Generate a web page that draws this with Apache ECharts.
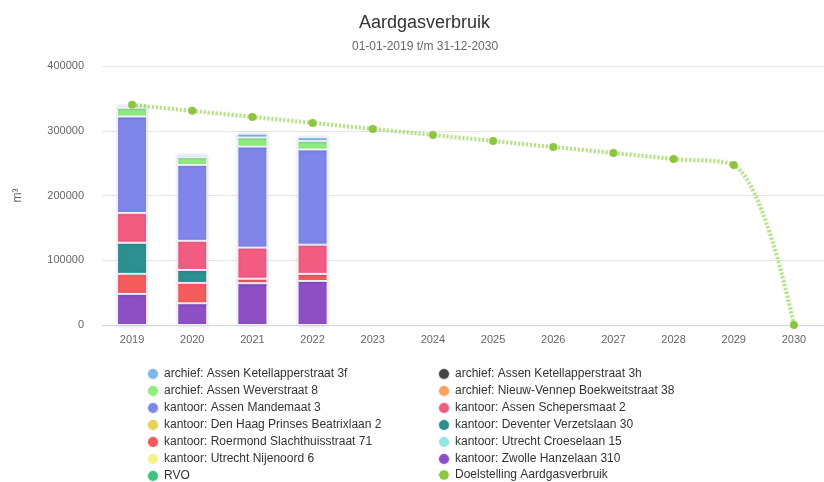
<!DOCTYPE html>
<html>
<head>
<meta charset="utf-8">
<script src="https://cdn.jsdelivr.net/npm/echarts@6/dist/echarts.min.js"></script>
<style>
  html, body { margin: 0; padding: 0; background: #fff; }
  #chart { width: 824px; height: 482px; }
</style>
</head>
<body>
<div id="chart"></div>
<script>
const years = ["2019","2020","2021","2022","2023","2024","2025","2026","2027","2028","2029","2030"];

// stacked gas use per location (m3), null where no data
const assenKetellapper3f = [3500, 3000, 6000, 6000, null, null, null, null, null, null, null, null];
const assenKetellapper3h = [0, 0, 0, 0, null, null, null, null, null, null, null, null];
const assenWeverstraat8 = [13000, 12000, 14000, 13000, null, null, null, null, null, null, null, null];
const nieuwVennep38 = [0, 0, 0, 0, null, null, null, null, null, null, null, null];
const assenMandemaat3 = [149000, 117000, 156000, 147000, null, null, null, null, null, null, null, null];
const assenSchepersmaat2 = [46000, 45000, 48000, 45000, null, null, null, null, null, null, null, null];
const denHaagBeatrixlaan2 = [0, 0, 0, 0, null, null, null, null, null, null, null, null];
const deventerVerzetslaan30 = [48000, 20000, 0, 0, null, null, null, null, null, null, null, null];
const roermondSlachthuis71 = [31000, 31500, 7000, 11000, null, null, null, null, null, null, null, null];
const utrechtCroeselaan15 = [0, 0, 0, 0, null, null, null, null, null, null, null, null];
const utrechtNijenoord6 = [0, 0, 0, 0, null, null, null, null, null, null, null, null];
const zwolleHanzelaan310 = [48000, 33500, 64500, 68000, null, null, null, null, null, null, null, null];
const rvo = [0, 0, 0, 0, null, null, null, null, null, null, null, null];

// target line
const doelstelling = [340000, 330700, 321400, 312100, 302800, 293500, 284200, 274900, 265600, 256300, 247000, 0];

const yTicks = [0, 100000, 200000, 300000, 400000];

// legend/series order as in the original (first = top of stack)
const barSeries = [
  { name: "archief: Assen Ketellapperstraat 3f", color: "#7cb5ec", data: assenKetellapper3f },
  { name: "archief: Assen Ketellapperstraat 3h", color: "#434348", data: assenKetellapper3h },
  { name: "archief: Assen Weverstraat 8", color: "#90ed7d", data: assenWeverstraat8 },
  { name: "archief: Nieuw-Vennep Boekweitstraat 38", color: "#f7a35c", data: nieuwVennep38 },
  { name: "kantoor: Assen Mandemaat 3", color: "#8085e9", data: assenMandemaat3 },
  { name: "kantoor: Assen Schepersmaat 2", color: "#f15c80", data: assenSchepersmaat2 },
  { name: "kantoor: Den Haag Prinses Beatrixlaan 2", color: "#e4d354", data: denHaagBeatrixlaan2 },
  { name: "kantoor: Deventer Verzetslaan 30", color: "#2b908f", data: deventerVerzetslaan30 },
  { name: "kantoor: Roermond Slachthuisstraat 71", color: "#f45b5b", data: roermondSlachthuis71 },
  { name: "kantoor: Utrecht Croeselaan 15", color: "#91e8e1", data: utrechtCroeselaan15 },
  { name: "kantoor: Utrecht Nijenoord 6", color: "#f5f08c", data: utrechtNijenoord6 },
  { name: "kantoor: Zwolle Hanzelaan 310", color: "#8e4fc4", data: zwolleHanzelaan310 },
  { name: "RVO", color: "#3fc27c", data: rvo },
];
const lineName = "Doelstelling Aardgasverbruik";
const lineColor = "#8cc63f";

const allNames = barSeries.map(s => s.name).concat([lineName]);
const legendItems = allNames.map(n => n === lineName ? { name: n } : { name: n, icon: "circle" });
const leftItems = legendItems.filter((n, i) => i % 2 === 0);
const rightItems = legendItems.filter((n, i) => i % 2 === 1);

const font = "'Liberation Sans', Arial, sans-serif";

const chart = echarts.init(document.getElementById("chart"));

const series = [...barSeries].reverse().map(s => ({
  name: s.name,
  type: "bar",
  stack: "gas",
  barWidth: 30,
  data: s.data,
  itemStyle: {
    color: s.color,
    borderColor: "rgba(255,255,255,0.85)",
    borderWidth: 1,
    shadowBlur: 3,
    shadowColor: "rgba(60,60,140,0.25)"
  },
  emphasis: { disabled: true }
}));

series.push({
  name: lineName,
  type: "line",
  data: doelstelling,
  smooth: 0.35,
  symbol: "circle",
  symbolSize: 8,
  z: 10,
  itemStyle: { color: lineColor },
  lineStyle: {
    color: "rgba(140,198,63,0.55)",
    width: 4,
    type: [2, 2],
    shadowBlur: 3,
    shadowColor: "rgba(140,198,63,0.45)"
  }
});

const legendCommon = {
  orient: "vertical",
  top: 367,
  height: 130,
  padding: 0,
  itemWidth: 12,
  itemHeight: 12,
  itemGap: 3,
  textStyle: { color: "#333", fontSize: 12, fontFamily: font }
};

chart.setOption({
  backgroundColor: "#fff",
  animation: false,
  title: [
    {
      text: "Aardgasverbruik",
      left: 359,
      top: 14,
      padding: 0,
      textStyle: { color: "#333", fontSize: 18, fontWeight: "normal", fontFamily: font }
    },
    {
      text: "01-01-2019 t/m 31-12-2030",
      left: 352,
      top: 41,
      padding: 0,
      textStyle: { color: "#666", fontSize: 12, fontWeight: "normal", fontFamily: font }
    }
  ],
  legend: [
    Object.assign({ left: 146, data: leftItems }, legendCommon),
    Object.assign({ left: 437, data: rightItems }, legendCommon)
  ],
  grid: { left: 102, top: 66, width: 727, height: 259 },
  xAxis: {
    type: "category",
    data: years,
    axisLine: { lineStyle: { color: "#ccd6eb" } },
    axisTick: { show: false },
    axisLabel: { color: "#666", fontSize: 11, fontFamily: font, margin: 9 }
  },
  yAxis: {
    type: "value",
    min: yTicks[0],
    max: yTicks[yTicks.length - 1],
    interval: 100000,
    name: "m³",
    nameLocation: "middle",
    nameRotate: 90,
    nameGap: 78,
    nameTextStyle: { color: "#666", fontSize: 12, fontFamily: font },
    axisLine: { show: false },
    axisTick: { show: false },
    axisLabel: { color: "#666", fontSize: 11, fontFamily: font, margin: 18, formatter: v => String(v) },
    splitLine: { lineStyle: { color: "#e6e6e6" } }
  },
  series: series
});
</script>
</body>
</html>
